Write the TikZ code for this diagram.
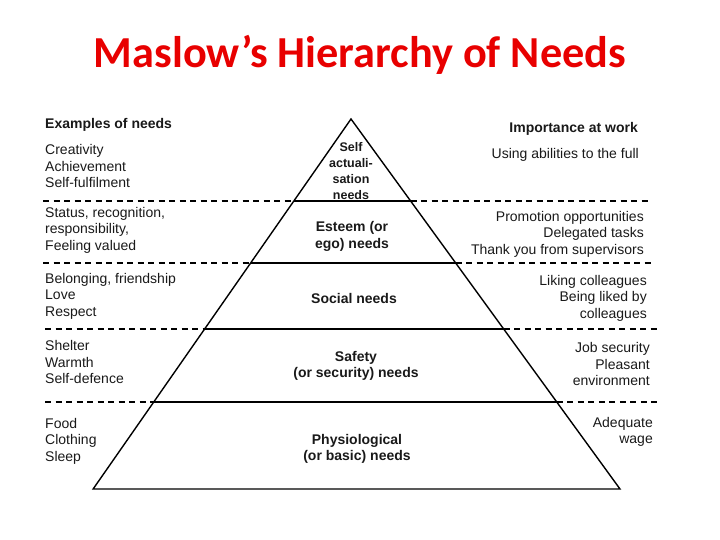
\documentclass[tikz,border=0pt]{standalone}
\usepackage{fontspec}
\setmainfont{Liberation Sans}
\newfontfamily\titlefont{Carlito}
\definecolor{titlered}{RGB}{232,0,0}
\begin{document}
\begin{tikzpicture}[x=1pt, y=-1pt, declare function={
    xl(\y)=351-0.697*(\y-119);
    xr(\y)=351+0.727*(\y-119);
  },
  txt/.style={inner sep=0pt, text=black!90, font=\fontsize{14}{16.4}\selectfont},
  headtxt/.style={txt, font=\fontsize{14}{16.4}\selectfont\bfseries},
  lefttxt/.style={anchor=west, align=left},
  righttxt/.style={anchor=east, align=right},
  midtxt/.style={headtxt, align=center},
  level/.style={line width=1.4pt},
  guide/.style={line width=1.2pt, dash pattern=on 6pt off 4.5pt}]
  \useasboundingbox (0,0) rectangle (720,540);
  \node[font=\titlefont\fontsize{44.3}{44}\selectfont\bfseries, text=titlered, anchor=base] (title) at (360,68) {Maslow’s Hierarchy of Needs};
  % pyramid
  \coordinate (apex) at (351,119);
  \coordinate (baseL) at ({xl(489)},489);
  \coordinate (baseR) at ({xr(489)},489);
  \draw[level, line join=miter] (baseL) -- (apex) -- (baseR) -- cycle;
  \foreach \yy/\xa/\xb in {201/43/652, 263/43/652, 329/45/658, 402/45/658} {
    \draw[level] ({xl(\yy)},\yy) -- ({xr(\yy)},\yy);
    \draw[guide] (\xa,\yy) -- ({xl(\yy)},\yy);
    \draw[guide] ({xr(\yy)},\yy) -- (\xb,\yy);
  }
  % examples of needs
  \node[headtxt, lefttxt] (exhead) at (45,125) {Examples of needs};
  \node[txt, lefttxt] (exself) at (45,166) {Creativity\\Achievement\\Self-fulfilment};
  \node[txt, lefttxt] (exesteem) at (45,230) {Status, recognition,\\responsibility,\\Feeling valued};
  \node[txt, lefttxt] (exsocial) at (45,296) {Belonging, friendship\\Love\\Respect};
  \node[txt, lefttxt] (exsafety) at (45,362) {Shelter\\Warmth\\Self-defence};
  \node[txt, lefttxt] (exbasic) at (45,441) {Food\\Clothing\\Sleep};
  % levels
  \node[midtxt, font=\fontsize{12.5}{16}\selectfont\bfseries] (self) at (351,171) {Self\\actuali-\\sation\\needs};
  \node[midtxt] (esteem) at (352,236.5) {Esteem (or\\ego) needs};
  \node[midtxt] (social) at (354,298) {Social needs};
  \node[midtxt] (safety) at (356,366) {Safety\\(or security) needs};
  \node[midtxt] (basic) at (357,449) {Physiological\\(or basic) needs};
  % importance at work
  \node[headtxt, righttxt] (workhead) at (638,129) {Importance at work};
  \node[txt, righttxt] (workself) at (639,155) {Using abilities to the full};
  \node[txt, righttxt] (workesteem) at (644,234) {Promotion opportunities\\Delegated tasks\\Thank you from supervisors};
  \node[txt, righttxt] (worksocial) at (647,298) {Liking colleagues\\Being liked by\\colleagues};
  \node[txt, righttxt] (worksafety) at (650,364) {Job security\\Pleasant\\environment};
  \node[txt, righttxt] (workbasic) at (653,432) {Adequate\\wage};
\end{tikzpicture}
\end{document}
